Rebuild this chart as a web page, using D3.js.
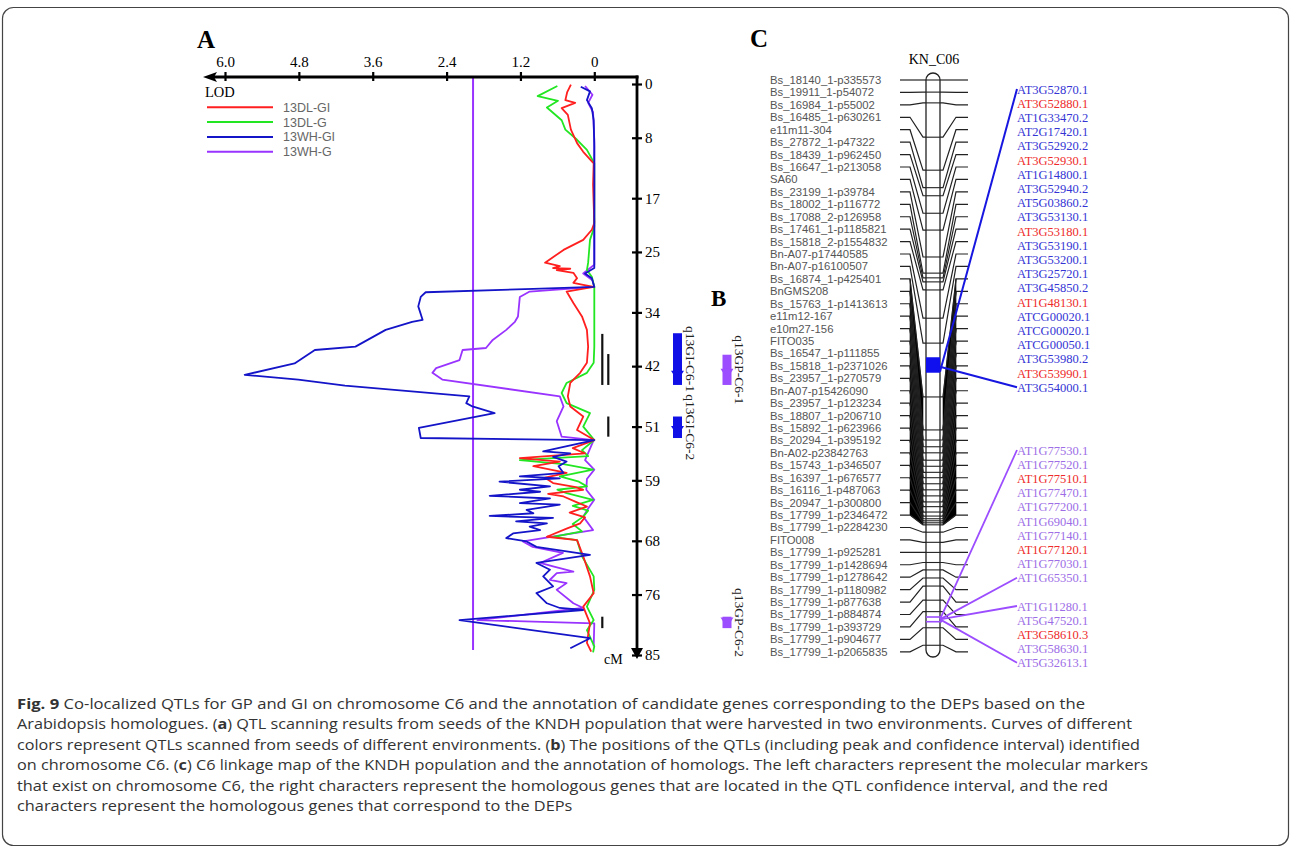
<!DOCTYPE html>
<html>
<head>
<meta charset="utf-8">
<script src="https://cdn.jsdelivr.net/npm/d3@7"></script>
<style>
body { margin: 0; background: #fff; }
svg { display: block; }
</style>
</head>
<body>
<svg id="fig" width="1292" height="848"></svg>
<script>
// ---- panel A: QTL scans (cM, LOD) ----
var lodTicks = [6.0, 4.8, 3.6, 2.4, 1.2, 0];
var cmTicks = [0, 8, 17, 25, 34, 42, 51, 59, 68, 76, 85];
var threshold = 1.97;
var seriesNames = ["13DL-GI", "13DL-G", "13WH-GI", "13WH-G"];
var seriesColors = ["#ff1f1f", "#22e622", "#1414c8", "#9933ff"];

var dlGI = [[0.1,0.38],[1.2,0.44],[2.4,0.47],[2.8,0.31],[3.6,0.53],[4.6,0.43],[6.8,0.38],[8.8,0.28],[10.1,0.18],[11.8,0.01],[15,0.02],[20.7,0],[21.7,0.04],[23.2,0.18],[24.7,0.50],[26.6,0.80],[27.1,0.56],[27.4,0.67],[27.5,0.39],[27.7,0.61],[28.1,0.34],[28.9,0.28],[29.6,0.34],[29.9,0.18],[30.2,0.01],[30.9,0.45],[32.6,0.34],[34.6,0.20],[36.6,0.12],[39.1,0.10],[41.5,0.12],[43.0,0.23],[44.5,0.39],[46.5,0.43],[48.0,0.39],[49.5,0.18],[51.5,0.28],[53.0,0.0],[54.2,0.35],[55.0,0.15],[55.7,1.21],[56.2,0.56],[56.9,0.99],[57.9,0.45],[58.6,0.80],[59.4,0.67],[60.0,0.30],[60.4,0.18],[61.0,0.75],[61.4,0.50],[62.2,0.30],[62.9,0.12],[63.8,0.40],[64.5,0.15],[65.4,0.23],[66.2,0.45],[67.4,0.77],[67.9,0.28],[70.3,0.18],[73.3,0.07],[75.8,0.01],[77.8,0.18],[80.3,0.07],[83.2,0.12],[84.5,0.05]];
var dlG = [[0.3,0.60],[1.8,0.92],[2.5,0.59],[3.5,0.77],[5.4,0.53],[6.8,0.47],[8.3,0.28],[9.8,0.12],[11.8,0],[21.3,0],[23.2,0.07],[26.6,0.10],[27.7,0.12],[28.7,0.04],[30.2,0],[34.6,0],[39.1,0],[41.5,0.01],[43.0,0.12],[44.5,0.45],[46.0,0.53],[47.5,0.45],[49.0,0.07],[51.0,0.18],[53.0,0],[54.5,0.20],[55.4,0.10],[56.0,1.21],[56.6,0.50],[57.4,0.02],[58.4,0.56],[59.2,0.25],[59.9,0.12],[60.4,0.60],[60.9,0.45],[61.9,0.02],[62.8,0.35],[63.5,0.10],[64.4,0.18],[65.5,0.35],[66.6,0.20],[67.4,0.67],[67.9,0.28],[70.3,0.20],[73.3,0.01],[75.3,0],[77.8,0.12],[79.8,0.01],[81.3,0.12],[83.7,0],[84.6,0.02]];
var whGI = [[0.4,0.22],[1.1,0.07],[2.4,0.12],[3.6,0.04],[5.4,0.01],[9.2,0],[27.4,0],[28.2,0.15],[28.9,0.04],[30.2,0],[30.5,0.99],[31.0,2.74],[31.7,2.82],[33.1,2.86],[35.1,2.79],[35.4,2.96],[36.6,3.39],[39.1,3.88],[39.6,4.54],[41.6,4.87],[43.3,5.68],[44.0,4.81],[44.9,4.05],[46.5,2.03],[47.5,2.08],[48.0,1.98],[49.0,1.62],[51.2,2.85],[52.7,2.82],[53.0,0],[54.7,0.83],[55.0,0.39],[55.5,0.67],[56.2,0.45],[56.9,0.58],[57.9,0.50],[58.4,1.21],[58.7,0.56],[59.2,1.54],[59.9,0.72],[60.4,1.21],[60.7,0.88],[61.3,1.70],[61.7,0.72],[62.4,1.21],[62.6,0.56],[63.4,1.10],[63.9,0.99],[64.3,1.70],[64.6,0.67],[65.1,1.27],[65.4,0.77],[65.9,1.05],[66.4,0.88],[66.9,1.32],[67.6,1.43],[68.1,1.10],[68.9,0.94],[70.1,0.07],[71.3,0.94],[72.3,0.72],[73.3,0.83],[74.8,0.67],[75.8,0.94],[77.3,0.77],[78.0,0.56],[78.3,0.18],[79.8,2.19],[82.5,0.07],[84.0,0.39]];
var whG = [[0.3,0.15],[1.6,0.03],[2.8,0.10],[4.2,0.02],[8.3,0],[26.9,0],[28.2,0.18],[29.2,0.03],[30.2,0],[30.9,1.05],[31.7,1.21],[34.6,1.24],[35.4,1.29],[36.6,1.43],[38.1,1.65],[39.3,1.76],[39.6,2.14],[41.1,2.19],[42.3,2.57],[43.0,2.63],[44.0,2.47],[46.5,0.56],[48.0,0.50],[50.2,0.61],[52.5,0.53],[53.0,0.01],[56.0,0.15],[57.4,0],[58.8,0.12],[60.4,0.13],[61.9,0],[63.2,0.10],[64.4,0.18],[66.4,0.02],[68.1,1.16],[68.9,1.00],[69.8,0.51],[71.3,0.88],[71.8,0.67],[72.6,0.34],[72.8,0.61],[73.8,0.72],[74.3,0.45],[75.3,0.61],[77.3,0.34],[78.0,0.18],[79.8,1.90],[80.3,0],[83.7,0.01]];

// confidence intervals of the 13DL scans (black bars), lane 0/1
var dlIntervals = [[37.2,44.8],[40.2,44.8],[49.5,52.5],[79.3,81.0]];
var dlLanes = [0, 1, 1, 0];

// ---- panel B: QTLs ----
var qtlNames = ["q13GI-C6-1", "q13GI-C6-2", "q13GP-C6-1", "q13GP-C6-2"];
var qtlTrait = ["GI", "GI", "GP", "GP"];
var qtlFrom = [37.1, 49.5, 40.3, 79.3];
var qtlTo = [44.8, 52.7, 44.8, 81.0];
var qtlPeak = [43.3, 51.5, 43.0, 80.0];

// ---- panel C: linkage map KN_C06 ----
var markerNames = ["Bs_18140_1-p335573","Bs_19911_1-p54072","Bs_16984_1-p55002","Bs_16485_1-p630261","e11m11-304","Bs_27872_1-p47322","Bs_18439_1-p962450","Bs_16647_1-p213058","SA60","Bs_23199_1-p39784","Bs_18002_1-p116772","Bs_17088_2-p126958","Bs_17461_1-p1185821","Bs_15818_2-p1554832","Bn-A07-p17440585","Bn-A07-p16100507","Bs_16874_1-p425401","BnGMS208","Bs_15763_1-p1413613","e11m12-167","e10m27-156","FITO035","Bs_16547_1-p111855","Bs_15818_1-p2371026","Bs_23957_1-p270579","Bn-A07-p15426090","Bs_23957_1-p123234","Bs_18807_1-p206710","Bs_15892_1-p623966","Bs_20294_1-p395192","Bn-A02-p23842763","Bs_15743_1-p346507","Bs_16397_1-p676577","Bs_16116_1-p487063","Bs_20947_1-p300800","Bs_17799_1-p2346472","Bs_17799_1-p2284230","FITO008","Bs_17799_1-p925281","Bs_17799_1-p1428694","Bs_17799_1-p1278642","Bs_17799_1-p1180982","Bs_17799_1-p877638","Bs_17799_1-p884874","Bs_17799_1-p393729","Bs_17799_1-p904677","Bs_17799_1-p2065835"];
var markerPos = [0,1.8,3.4,8.5,13.4,16.0,17.2,19.8,22.3,26.3,28.7,29.4,30.0,31.2,35.4,39.1,47.1,52.0,53.5,54.5,55.4,56.5,57.4,58.3,59.1,60.0,60.9,61.8,62.7,63.4,64.2,64.8,65.2,65.5,65.8,66.1,67.2,68.7,70.2,71.7,72.8,74.0,75.2,77.3,79.0,81.4,84.0];
var denseBlock = [16, 35];   // markers packed so tightly that their links merge
var chromQtlGI = [41.2, 43.5];
var chromQtlGP = [79.8, 80.5];

var giGenes = ["AT3G52870.1","AT3G52880.1","AT1G33470.2","AT2G17420.1","AT3G52920.2","AT3G52930.1","AT1G14800.1","AT3G52940.2","AT5G03860.2","AT3G53130.1","AT3G53180.1","AT3G53190.1","AT3G53200.1","AT3G25720.1","AT3G45850.2","AT1G48130.1","ATCG00020.1","ATCG00020.1","ATCG00050.1","AT3G53980.2","AT3G53990.1","AT3G54000.1"];
var gpGenesA = ["AT1G77530.1","AT1G77520.1","AT1G77510.1","AT1G77470.1","AT1G77200.1","AT1G69040.1","AT1G77140.1","AT1G77120.1","AT1G77030.1","AT1G65350.1"];
var gpGenesB = ["AT1G11280.1","AT5G47520.1","AT3G58610.3","AT3G58630.1","AT5G32613.1"];
var depGenes = ["AT3G52880.1","AT3G52930.1","AT3G53180.1","AT1G48130.1","AT3G53990.1","AT1G77510.1","AT1G77120.1","AT3G58610.3"];

var captionLines = [
	[["Fig. 9", true], [" Co-localized QTLs for GP and GI on chromosome C6 and the annotation of candidate genes corresponding to the DEPs based on the", false]],
	[["Arabidopsis homologues. (", false], ["a", true], [") QTL scanning results from seeds of the KNDH population that were harvested in two environments. Curves of different", false]],
	[["colors represent QTLs scanned from seeds of different environments. (", false], ["b", true], [") The positions of the QTLs (including peak and confidence interval) identified", false]],
	[["on chromosome C6. (", false], ["c", true], [") C6 linkage map of the KNDH population and the annotation of homologs. The left characters represent the molecular markers", false]],
	[["that exist on chromosome C6, the right characters represent the homologous genes that are located in the QTL confidence interval, and the red", false]],
	[["characters represent the homologous genes that correspond to the DEPs", false]]
];
// justified widths of the full lines; the last line keeps the same squeeze
var captionWidths = [1068, 1115, 1123, 1131, 1091];

var SERIF = "'Liberation Serif', 'Times New Roman', serif";
var SANS = "'Liberation Sans', Arial, sans-serif";

var svg = d3.select("#fig");

svg.append("rect")
	.attr("x", 2.5).attr("y", 7.5)
	.attr("width", 1286).attr("height", 838)
	.attr("rx", 11)
	.attr("fill", "none")
	.attr("stroke", "#444")
	.attr("stroke-width", 1.2);

// ================= panel A =================
var x = d3.scaleLinear().domain([0, 6]).range([594.3, 225]);
var y = d3.scaleLinear().domain([0, 85]).range([84, 655]);
var gA = svg.append("g");

gA.append("text").attr("x", 197).attr("y", 48).text("A")
	.attr("font-family", SERIF).attr("font-weight", "bold").attr("font-size", 25);

// threshold
gA.append("line")
	.attr("x1", x(threshold)).attr("x2", x(threshold))
	.attr("y1", 77).attr("y2", 650)
	.attr("stroke", "#9933ff").attr("stroke-width", 2);

var series = [dlGI, dlG, whGI, whG].map(function(d, i) {
	return {name: seriesNames[i], color: seriesColors[i], data: d};
});

var line = d3.line()
	.x(function(d) { return x(d[1]); })
	.y(function(d) { return y(d[0]); });

// draw order: purple, green, red, blue
[3, 1, 0, 2].forEach(function(i) {
	gA.append("path")
		.attr("d", line(series[i].data))
		.attr("fill", "none")
		.attr("stroke", series[i].color)
		.attr("stroke-width", 1.8)
		.attr("stroke-linejoin", "round");
});

// legend
series.forEach(function(s, i) {
	var ly = 107.3 + i * 14.8;
	gA.append("line")
		.attr("x1", 207).attr("x2", 273)
		.attr("y1", ly).attr("y2", ly)
		.attr("stroke", s.color).attr("stroke-width", 2);
	gA.append("text")
		.attr("x", 283).attr("y", ly + 4.5)
		.text(s.name)
		.attr("font-family", SANS).attr("font-size", 12.5)
		.attr("fill", "#666");
});

gA.append("text").attr("x", 205).attr("y", 97).text("LOD")
	.attr("font-family", SERIF).attr("font-size", 14.5);

// confidence bars for 13DL
dlIntervals.forEach(function(iv, i) {
	var bx = 602.3 + dlLanes[i] * 6;
	gA.append("line")
		.attr("x1", bx).attr("x2", bx)
		.attr("y1", y(iv[0])).attr("y2", y(iv[1]))
		.attr("stroke", "#111").attr("stroke-width", 2.2);
});

// top LOD axis
function styleAxis(g) {
	g.select(".domain").remove();
	g.selectAll(".tick line").attr("stroke", "#000").attr("stroke-width", 2.2);
	g.selectAll(".tick text")
		.attr("font-family", SERIF).attr("font-size", 15).attr("fill", "#000");
}
gA.append("g").attr("transform", "translate(0,77)")
	.call(d3.axisTop(x).tickValues(lodTicks).tickSize(5).tickPadding(5)
		.tickFormat(function(d) { return d === 0 ? "0" : d3.format(".1f")(d); }))
	.call(styleAxis);
gA.append("g").attr("transform", "translate(0,77)")
	.call(d3.axisBottom(x).tickValues(lodTicks).tickSize(4).tickFormat(""))
	.call(styleAxis);
gA.append("line").attr("x1", 212).attr("x2", 638.5).attr("y1", 77).attr("y2", 77)
	.attr("stroke", "#000").attr("stroke-width", 2.8);
gA.append("path").attr("d", "M203,77L217,72L214,77L217,82Z").attr("fill", "#000");

// vertical cM axis
gA.append("g").attr("transform", "translate(637,0)")
	.call(d3.axisRight(y).tickValues(cmTicks).tickSize(5).tickPadding(3))
	.call(styleAxis);
gA.append("g").attr("transform", "translate(637,0)")
	.call(d3.axisLeft(y).tickValues(cmTicks).tickSize(5).tickFormat(""))
	.call(styleAxis);
gA.append("line").attr("x1", 637).attr("x2", 637).attr("y1", 75.6).attr("y2", 650)
	.attr("stroke", "#000").attr("stroke-width", 2.8);
gA.append("path").attr("d", "M631,648L643,648L637,659Z").attr("fill", "#000");
gA.append("text").attr("x", 604).attr("y", 664).text("cM")
	.attr("font-family", SERIF).attr("font-size", 14);

// ================= panel B =================
var gB = svg.append("g");
gB.append("text").attr("x", 711).attr("y", 306).text("B")
	.attr("font-family", SERIF).attr("font-weight", "bold").attr("font-size", 23);

var traitX = {GI: 677.5, GP: 727};
var traitColor = {GI: "#1010e6", GP: "#9b4dff"};
qtlNames.forEach(function(name, i) {
	var bx = traitX[qtlTrait[i]], col = traitColor[qtlTrait[i]];
	var y0 = y(qtlFrom[i]), y1 = y(qtlTo[i]), yp = y(qtlPeak[i]);
	gB.append("rect")
		.attr("x", bx - 4.5).attr("y", y0)
		.attr("width", 9).attr("height", y1 - y0)
		.attr("fill", col);
	gB.append("path")
		.attr("d", "M" + (bx - 6.5) + "," + (yp - 4) + "L" + (bx + 6.5) + "," + (yp - 4) + "L" + bx + "," + (yp + 6) + "Z")
		.attr("fill", col);
	var cy = (y0 + y1) / 2;
	gB.append("text")
		.attr("transform", "translate(" + (bx + 8) + "," + cy + ") rotate(90)")
		.attr("text-anchor", "middle")
		.text(name)
		.attr("font-family", SERIF).attr("font-size", 13.5)
		.attr("fill", "#222");
});

// ================= panel C =================
var gC = svg.append("g");
var yc = d3.scaleLinear().domain([0, 85]).range([80, 652]);
var labelY = function(i) { return 80 + i * 12.43; };

gC.append("text").attr("x", 750).attr("y", 47).text("C")
	.attr("font-family", SERIF).attr("font-weight", "bold").attr("font-size", 25);
gC.append("text").attr("x", 934).attr("y", 64).attr("text-anchor", "middle").text("KN_C06")
	.attr("font-family", SERIF).attr("font-size", 14);

var cL = 926, cR = 940;

// merged links for the dense block
for (var i = denseBlock[0]; i < denseBlock[1]; i++) {
	var a = labelY(i), b = labelY(i + 1), ca = yc(markerPos[i]), cb = yc(markerPos[i + 1]);
	gC.append("path")
		.attr("d", "M910," + a + "L923," + ca + "L923," + cb + "L910," + b + "Z")
		.attr("fill", "#000").attr("stroke", "#000").attr("stroke-width", 0.6);
	gC.append("path")
		.attr("d", "M956," + a + "L943," + ca + "L943," + cb + "L956," + b + "Z")
		.attr("fill", "#000").attr("stroke", "#000").attr("stroke-width", 0.6);
}

markerNames.forEach(function(name, i) {
	var ly = labelY(i), cy = yc(markerPos[i]);
	gC.append("path")
		.attr("d", "M900," + ly + "L910," + ly + "L923," + cy + "L" + cL + "," + cy)
		.attr("fill", "none").attr("stroke", "#222").attr("stroke-width", 1.2);
	gC.append("path")
		.attr("d", "M" + cR + "," + cy + "L943," + cy + "L956," + ly + "L968," + ly)
		.attr("fill", "none").attr("stroke", "#222").attr("stroke-width", 1.2);
	gC.append("line")
		.attr("x1", cL).attr("x2", cR).attr("y1", cy).attr("y2", cy)
		.attr("stroke", "#222").attr("stroke-width", 1.1);
	gC.append("text")
		.attr("x", 770).attr("y", ly + 4)
		.text(name)
		.attr("font-family", SANS).attr("font-size", 11.3)
		.attr("fill", "#555");
});

// chromosome body
gC.append("rect")
	.attr("x", cL).attr("y", 73)
	.attr("width", cR - cL).attr("height", 584)
	.attr("rx", 7)
	.attr("fill", "none").attr("stroke", "#222").attr("stroke-width", 1.3);

// QTL on chromosome
gC.append("rect")
	.attr("x", cL).attr("y", yc(chromQtlGI[0]))
	.attr("width", cR - cL).attr("height", yc(chromQtlGI[1]) - yc(chromQtlGI[0]))
	.attr("fill", "#1010ee");
chromQtlGP.forEach(function(p) {
	gC.append("line")
		.attr("x1", cL).attr("x2", cR + 2).attr("y1", yc(p)).attr("y2", yc(p))
		.attr("stroke", "#9b4dff").attr("stroke-width", 1.6);
});

// homologous gene labels
var geneX = 1017;
var giY = function(i) { return 89 + i * 14.2; };
var gpAY = function(i) { return 450 + i * 14.2; };
var gpBY = function(i) { return 606 + i * 14.2; };

function geneLabel(name, gy, baseColor) {
	gC.append("text")
		.attr("x", geneX).attr("y", gy + 4.5)
		.text(name)
		.attr("font-family", SERIF).attr("font-size", 12.5)
		.attr("fill", depGenes.indexOf(name) >= 0 ? "#ee2a2a" : baseColor);
}
giGenes.forEach(function(g, i) { geneLabel(g, giY(i), "#3434d4"); });
gpGenesA.forEach(function(g, i) { geneLabel(g, gpAY(i), "#9d6ee6"); });
gpGenesB.forEach(function(g, i) { geneLabel(g, gpBY(i), "#9d6ee6"); });

// links from QTL to gene lists
gC.append("line").attr("x1", cR).attr("y1", yc(chromQtlGI[1]) - 1)
	.attr("x2", geneX).attr("y2", giY(0))
	.attr("stroke", "#1616e0").attr("stroke-width", 2);
gC.append("line").attr("x1", cR).attr("y1", yc(chromQtlGI[1]) - 6)
	.attr("x2", geneX).attr("y2", giY(giGenes.length - 1))
	.attr("stroke", "#1616e0").attr("stroke-width", 2);
var gpMid = yc((chromQtlGP[0] + chromQtlGP[1]) / 2);
[gpAY(0), gpAY(gpGenesA.length - 1), gpBY(0), gpBY(gpGenesB.length - 1)].forEach(function(ty) {
	gC.append("line").attr("x1", cR).attr("y1", gpMid)
		.attr("x2", geneX).attr("y2", ty)
		.attr("stroke", "#9b4dff").attr("stroke-width", 1.8);
});

// ================= caption =================
var cap = svg.append("g");
var squeeze = [];
var capTexts = captionLines.map(function(parts, i) {
	var t = cap.append("text")
		.attr("x", 17).attr("y", 709 + i * 20.4)
		.attr("font-family", "'Open Sans', 'Noto Sans', sans-serif")
		.attr("font-size", 15)
		.attr("fill", "#333");
	parts.forEach(function(p) {
		t.append("tspan").text(p[0]).attr("font-weight", p[1] ? "bold" : null);
	});
	return t;
});
capTexts.forEach(function(t, i) {
	var natural = t.node().getComputedTextLength();
	if (i < captionWidths.length) squeeze.push(captionWidths[i] / natural);
	var w = i < captionWidths.length ? captionWidths[i] : natural * d3.mean(squeeze);
	t.attr("textLength", w).attr("lengthAdjust", "spacingAndGlyphs");
});
</script>
</body>
</html>
